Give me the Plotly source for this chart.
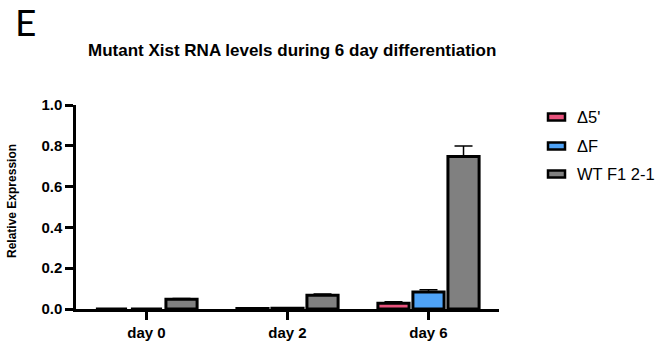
import plotly.graph_objects as go

# Relative Xist expression by day and line (mean and upper error)
days = ["day 0", "day 2", "day 6"]
series_names = ["Δ5'", "ΔF", "WT F1 2-1"]
delta5_vals = [0.0, 0.002, 0.028]
delta5_err = [0.0, 0.001, 0.008]
deltaF_vals = [0.0, 0.004, 0.083]
deltaF_err = [0.0, 0.001, 0.011]
wt_vals = [0.048, 0.067, 0.747]
wt_err = [0.003, 0.007, 0.052]

colors = ["#E9537D", "#4FA3F7", "#808080"]
values = [delta5_vals, deltaF_vals, wt_vals]
errors = [delta5_err, deltaF_err, wt_err]

FONT = "Liberation Sans, Arial, sans-serif"
W, H = 662, 343
ML, MR, MT, MB = 76, 163, 105, 34

fig = go.Figure()
for name, vals, errs, col in zip(series_names, values, errors, colors):
    fig.add_trace(go.Bar(
        x=days, y=vals, name=name,
        marker=dict(color=col, line=dict(color="black", width=3)),
        error_y=dict(type="data", array=errs, arrayminus=[0] * len(errs),
                     symmetric=False, color="black", thickness=1.5, width=9),
        showlegend=False,
    ))

# Legend drawn as wide outlined swatches with labels to the right
pw = W - ML - MR
ph = H - MT - MB
def px_x(p):
    return (p - ML) / pw
def px_y(p):
    return (H - MB - p) / ph

shapes = []
annotations = []
row_y = [117, 146, 174]
for name, col, yy in zip(series_names, colors, row_y):
    shapes.append(dict(type="rect", xref="paper", yref="paper",
                       x0=px_x(548), x1=px_x(565), y0=px_y(yy + 3.5), y1=px_y(yy - 3.5),
                       fillcolor=col, line=dict(color="black", width=2.5)))
    annotations.append(dict(text=name, xref="paper", yref="paper",
                            x=px_x(575), y=px_y(yy), xanchor="left", yanchor="middle",
                            showarrow=False, font=dict(size=16.5, family=FONT)))

annotations += [
    dict(text="Mutant Xist RNA levels during 6 day differentiation",
         xref="paper", yref="paper", x=px_x(292), y=px_y(50),
         xanchor="center", yanchor="middle", showarrow=False,
         font=dict(size=17, family=FONT, weight="bold")),
    dict(text="E", xref="paper", yref="paper", x=px_x(13), y=px_y(22),
         xanchor="left", yanchor="middle", showarrow=False,
         font=dict(size=37, family="Lato")),
    dict(text="Relative Expression", xref="paper", yref="paper",
         x=px_x(12), y=px_y(201), xanchor="center", yanchor="middle",
         textangle=-90, showarrow=False,
         font=dict(size=12, family=FONT, weight="bold")),
]

fig.update_layout(
    width=W, height=H,
    margin=dict(l=ML, r=MR, t=MT, b=MB),
    paper_bgcolor="white", plot_bgcolor="white",
    barmode="group", bargap=0.255, bargroupgap=0.11,
    font=dict(family=FONT, color="black"),
    showlegend=False,
    xaxis=dict(showline=True, linecolor="black", linewidth=2.5,
               ticks="outside", ticklen=8, tickwidth=2.5, tickcolor="black",
               tickfont=dict(size=15, family=FONT, weight="bold"),
               showgrid=False, zeroline=False, range=[-0.5, 2.5],
               automargin=False),
    yaxis=dict(showline=True, linecolor="black", linewidth=2.5,
               ticks="outside", ticklen=8, tickwidth=2.5, tickcolor="black",
               tickfont=dict(size=15, family=FONT, weight="bold"),
               range=[0, 1.0], dtick=0.2, tickformat=".1f",
               showgrid=False, zeroline=False, automargin=False),
    shapes=shapes,
    annotations=annotations,
)

fig.write_html("out.html")
